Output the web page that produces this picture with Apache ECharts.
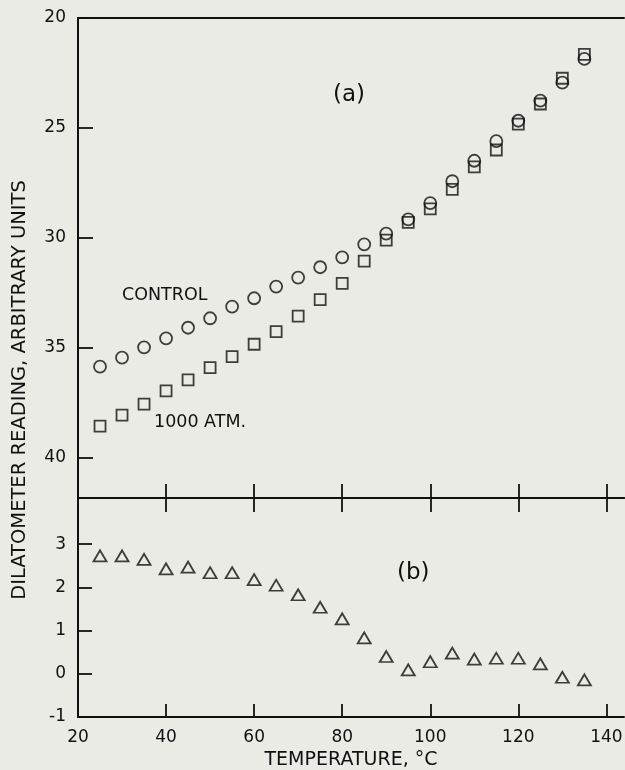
<!DOCTYPE html>
<html>
<head>
<meta charset="utf-8">
<script src="https://cdn.jsdelivr.net/npm/echarts@6/dist/echarts.min.js"></script>
<style>
html,body{margin:0;padding:0;background:#ebebe5;}
#chart{width:625px;height:770px;}
</style>
</head>
<body>
<div id="chart"></div>
<script>
// Temperatures (°C)
var temperatures = [25, 30, 35, 40, 45, 50, 55, 60, 65, 70, 75, 80, 85, 90, 95, 100, 105, 110, 115, 120, 125, 130, 135];
// Panel (a): dilatometer reading, control sample (circles)
var controlReading = [35.85, 35.44, 34.97, 34.56, 34.08, 33.65, 33.12, 32.74, 32.21, 31.8, 31.33, 30.88, 30.29, 29.80, 29.15, 28.42, 27.42, 26.49, 25.6, 24.67, 23.76, 22.94, 21.86];
// Panel (a): dilatometer reading, 1000 atm sample (squares)
var atm1000Reading = [38.55, 38.05, 37.55, 36.95, 36.45, 35.89, 35.39, 34.83, 34.26, 33.55, 32.8, 32.06, 31.05, 30.10, 29.29, 28.68, 27.79, 26.77, 26.0, 24.82, 23.91, 22.74, 21.65];
// Panel (b): difference (triangles)
var differenceReading = [2.73, 2.73, 2.65, 2.43, 2.47, 2.34, 2.34, 2.18, 2.05, 1.83, 1.54, 1.27, 0.83, 0.40, 0.09, 0.28, 0.48, 0.34, 0.36, 0.36, 0.23, -0.08, -0.14];
// Tick labels
var xTickLabels = [20, 40, 60, 80, 100, 120, 140];
var xTickMarks = [40, 60, 80, 100, 120, 140];
var yTopTicks = [20, 25, 30, 35, 40];
var yBottomLabels = [-1, 0, 1, 2, 3];
var yBottomTicks = [0, 1, 2, 3];

var ink = '#111111';
var font = 'DejaVu Sans';

function pairs(ys) { return temperatures.map(function (t, i) { return [t, ys[i]]; }); }

var lineStyle = { color: ink, width: 2 };
var tickStyle = { color: ink, width: 1.8 };

var chart = echarts.init(document.getElementById('chart'), null, { renderer: 'canvas' });
chart.setOption({
  backgroundColor: '#ebebe5',
  animation: false,
  grid: [
    { left: 78, right: 1, top: 18, height: 480, outerBoundsMode: 'none', containLabel: false },
    { left: 78, right: 1, top: 498, height: 219, outerBoundsMode: 'none', containLabel: false }
  ],
  xAxis: [
    { gridIndex: 0, type: 'value', position: 'top', min: 20, max: 144, interval: 20,
      axisLine: { show: true, onZero: false, lineStyle: lineStyle }, axisTick: { show: false },
      axisLabel: { show: false }, splitLine: { show: false } },
    { gridIndex: 0, type: 'value', position: 'bottom', min: 20, max: 144, interval: 20,
      axisLine: { show: true, onZero: false, lineStyle: lineStyle },
      axisTick: { show: true, inside: true, length: 14, lineStyle: tickStyle, customValues: xTickMarks },
      axisLabel: { show: false }, splitLine: { show: false } },
    { gridIndex: 1, type: 'value', position: 'top', min: 20, max: 144, interval: 20,
      axisLine: { show: true, onZero: false, lineStyle: lineStyle },
      axisTick: { show: true, inside: true, length: 14, lineStyle: tickStyle, customValues: xTickMarks },
      axisLabel: { show: false }, splitLine: { show: false } },
    { gridIndex: 1, type: 'value', position: 'bottom', min: 20, max: 144, interval: 20,
      axisLine: { show: true, onZero: false, lineStyle: lineStyle },
      axisTick: { show: true, inside: true, length: 13, lineStyle: tickStyle, customValues: xTickMarks },
      axisLabel: { show: true, color: ink, fontFamily: font, fontSize: 17, margin: 12, customValues: xTickLabels },
      splitLine: { show: false },
      name: 'TEMPERATURE, °C', nameLocation: 'middle', nameGap: 34,
      nameTextStyle: { color: ink, fontFamily: font, fontSize: 19 } }
  ],
  yAxis: [
    { gridIndex: 0, type: 'value', inverse: true, min: 20, max: 41.82, interval: 5,
      axisLine: { show: true, onZero: false, lineStyle: lineStyle },
      axisTick: { show: true, inside: true, length: 15, lineStyle: tickStyle, customValues: yTopTicks },
      axisLabel: { show: true, color: ink, fontFamily: font, fontSize: 17, margin: 12, customValues: yTopTicks },
      splitLine: { show: false } },
    { gridIndex: 1, type: 'value', min: -1, max: 4.07, interval: 1,
      axisLine: { show: true, onZero: false, lineStyle: lineStyle },
      axisTick: { show: true, inside: true, length: 14, lineStyle: tickStyle, customValues: yBottomTicks },
      axisLabel: { show: true, color: ink, fontFamily: font, fontSize: 17, margin: 12, customValues: yBottomLabels },
      splitLine: { show: false } }
  ],
  graphic: [
    { type: 'text', x: 20, y: 390, rotation: Math.PI / 2,
      style: { text: 'DILATOMETER READING, ARBITRARY UNITS', fill: ink, font: '19.5px "DejaVu Sans"', textAlign: 'center', textVerticalAlign: 'middle' } },
    { type: 'text', x: 122, y: 295,
      style: { text: 'CONTROL', fill: ink, font: '17.5px "DejaVu Sans"', textAlign: 'left', textVerticalAlign: 'middle' } },
    { type: 'text', x: 154, y: 422,
      style: { text: '1000 ATM.', fill: ink, font: '17.5px "DejaVu Sans"', textAlign: 'left', textVerticalAlign: 'middle' } },
    { type: 'text', x: 333, y: 95,
      style: { text: '(a)', fill: ink, font: '23px "DejaVu Sans"', textAlign: 'left', textVerticalAlign: 'middle' } },
    { type: 'text', x: 397, y: 573,
      style: { text: '(b)', fill: ink, font: '23px "DejaVu Sans"', textAlign: 'left', textVerticalAlign: 'middle' } }
  ],
  series: [
    { name: 'Control', type: 'scatter', xAxisIndex: 1, yAxisIndex: 0, data: pairs(controlReading),
      symbol: 'circle', symbolSize: 12,
      itemStyle: { color: 'rgba(0,0,0,0)', borderColor: ink, borderWidth: 1.8 } },
    { name: '1000 atm', type: 'scatter', xAxisIndex: 1, yAxisIndex: 0, data: pairs(atm1000Reading),
      symbol: 'rect', symbolSize: 11,
      itemStyle: { color: 'rgba(0,0,0,0)', borderColor: ink, borderWidth: 1.8 } },
    { name: 'Difference', type: 'scatter', xAxisIndex: 3, yAxisIndex: 1, data: pairs(differenceReading),
      symbol: 'triangle', symbolSize: [13, 11],
      itemStyle: { color: 'rgba(0,0,0,0)', borderColor: ink, borderWidth: 1.8 } }
  ]
});
</script>
</body>
</html>
